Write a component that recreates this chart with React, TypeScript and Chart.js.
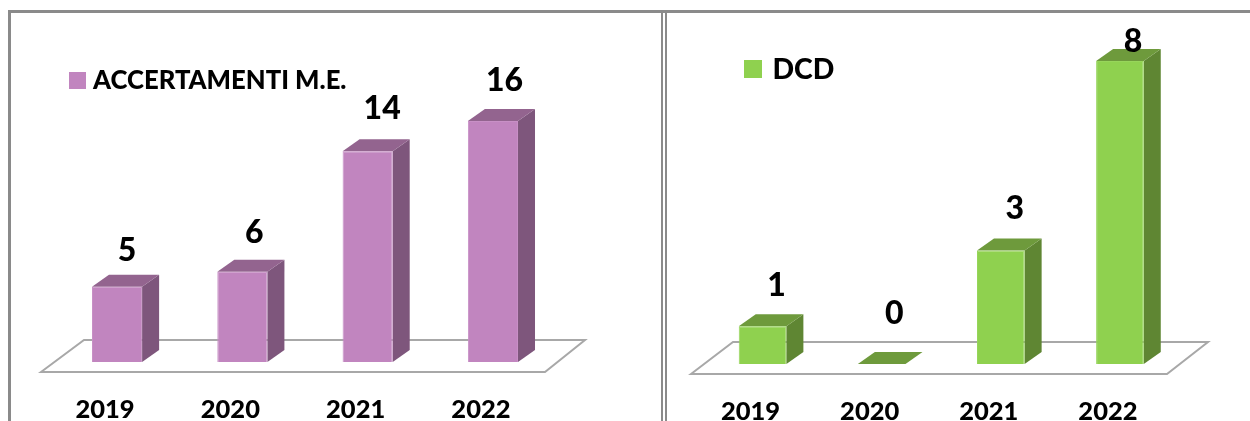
import React, { useEffect, useRef } from "react";
import { Chart, registerables } from "chart.js";

Chart.register(...registerables);

const years = ["2019", "2020", "2021", "2022"];
const accertamentiValues = [5, 6, 14, 16];
const dcdValues = [1, 0, 3, 8];

const FONT = "Lato, 'Open Sans', sans-serif";

const boxPlugin = {
  id: "box3d",
  beforeDatasetsDraw(chart: any, _a: any, o: any) {
    const { ctx, chartArea } = chart;
    const b = chartArea.bottom;
    // floor
    ctx.save();
    ctx.beginPath();
    ctx.moveTo(o.floor.frontLeft, b + o.floor.frontDy);
    ctx.lineTo(o.floor.backLeft, b + o.floor.backDy);
    ctx.lineTo(o.floor.backRight, b + o.floor.backDy);
    ctx.lineTo(o.floor.frontRight, b + o.floor.frontDy);
    ctx.closePath();
    ctx.strokeStyle = "#a8a8a8";
    ctx.lineWidth = 2;
    ctx.stroke();
    // side and top faces
    chart.getDatasetMeta(0).data.forEach((bar: any) => {
      const l = bar.x - bar.width / 2;
      const r = bar.x + bar.width / 2;
      const t = bar.y;
      const base = bar.base;
      ctx.fillStyle = o.side;
      ctx.beginPath();
      ctx.moveTo(r, t);
      ctx.lineTo(r + o.dx, t + o.dy);
      ctx.lineTo(r + o.dx, base + o.dy);
      ctx.lineTo(r, base);
      ctx.closePath();
      ctx.fill();
      ctx.fillStyle = o.top;
      ctx.beginPath();
      ctx.moveTo(l, t);
      ctx.lineTo(l + o.dx, t + o.dy);
      ctx.lineTo(r + o.dx, t + o.dy);
      ctx.lineTo(r, t);
      ctx.closePath();
      ctx.fill();
    });
    ctx.restore();
  },
  afterDatasetsDraw(chart: any, _a: any, o: any) {
    const { ctx } = chart;
    const ds = chart.data.datasets[0];
    ctx.save();
    ctx.fillStyle = "#000";
    ctx.textAlign = "center";
    ctx.textBaseline = "middle";
    ctx.font = `900 ${o.labelSize}px ${FONT}`;
    chart.getDatasetMeta(0).data.forEach((bar: any, i: number) => {
      ctx.fillText(String(ds.data[i]), bar.x + o.labelDx[i], bar.y + o.labelDy[i]);
    });
    // legend
    ctx.fillStyle = ds.backgroundColor;
    ctx.fillRect(o.legend.x, o.legend.y, o.legend.box, o.legend.box);
    ctx.fillStyle = "#000";
    ctx.textAlign = "left";
    ctx.font = `900 ${o.legend.size}px ${FONT}`;
    ctx.fillText(ds.label, o.legend.textX, o.legend.y + o.legend.box / 2 + 0.5);
    ctx.restore();
  },
};

function Panel({ label, values, color, edge, box3d, padding, bottomH, barPct, tickPad, style }: any) {
  const ref = useRef<HTMLCanvasElement>(null);
  useEffect(() => {
    const chart = new Chart(ref.current!, {
      type: "bar",
      data: {
        labels: years,
        datasets: [
          {
            label,
            data: values,
            backgroundColor: color,
            borderColor: edge,
            borderWidth: 1,
            categoryPercentage: 1,
            barPercentage: barPct,
          },
        ],
      },
      options: {
        animation: false,
        responsive: false,
        layout: { padding },
        scales: {
          x: {
            grid: { display: false, drawTicks: false },
            border: { display: false },
            ticks: {
              color: "#000",
              padding: tickPad,
              labelOffset: -12,
              maxRotation: 0,
              font: { family: FONT, weight: "900", size: 25.5 },
            },
            afterFit(s: any) {
              s.height = bottomH;
            },
          },
          y: { display: false, min: 0, max: Math.max(...values) },
        },
        plugins: { legend: { display: false }, tooltip: { enabled: false }, box3d },
      } as any,
      plugins: [boxPlugin],
    });
    return () => chart.destroy();
  }, []);
  return (
    <canvas
      ref={ref}
      width={style.width}
      height={421}
      style={{ position: "absolute", top: 0, height: 421, display: "block", filter: "blur(0.4px)", ...style }}
    />
  );
}

export default function App() {
  const line = "#8a8a8a";
  return (
    <div style={{ position: "fixed", left: 0, top: 0, width: 1250, height: 421, overflow: "hidden", background: "#fff" }}>
      <div style={{ position: "absolute", left: 8, top: 10, width: 1242, height: 3, background: line }} />
      <div style={{ position: "absolute", left: 8, top: 10, width: 3, height: 411, background: line }} />
      <div style={{ position: "absolute", left: 661, top: 10, width: 2, height: 411, background: line }} />
      <div style={{ position: "absolute", left: 665, top: 10, width: 2, height: 411, background: line }} />
      <Panel
        label="ACCERTAMENTI M.E."
        values={accertamentiValues}
        color="#c185bf"
        edge="#c890c6"
        barPct={0.4}
        tickPad={32}
        bottomH={59}
        padding={{ left: 54.4, right: 106.4, top: 121, bottom: 0 }}
        style={{ left: 0, width: 662 }}
        box3d={{
          dx: 17,
          dy: -12,
          side: "#7e567c",
          top: "#93648f",
          labelSize: 32,
          labelDx: [10, 12, 14.5, 11.5],
          labelDy: [-36, -39, -42, -40],
          floor: { frontLeft: 41, frontRight: 545, backLeft: 84, backRight: 585, frontDy: 10, backDy: -22 },
          legend: { x: 69, y: 72, box: 17, textX: 93, size: 25.7 },
        }}
      />
      <Panel
        label="DCD"
        values={dcdValues}
        color="#8fd14f"
        edge="#97d55b"
        barPct={0.4}
        tickPad={32}
        bottomH={57}
        padding={{ left: 41, right: 70.5, top: 61, bottom: 0 }}
        style={{ left: 662, width: 588 }}
        box3d={{
          dx: 17,
          dy: -12,
          side: "#5f8633",
          top: "#6e9a3c",
          labelSize: 32,
          labelDx: [14, 12.5, 14, 13],
          labelDy: [-40, -50, -42, -19],
          floor: { frontLeft: 29, frontRight: 505, backLeft: 71, backRight: 546, frontDy: 10, backDy: -22 },
          legend: { x: 82, y: 60, box: 18, textX: 110.5, size: 28.4 },
        }}
      />
    </div>
  );
}
